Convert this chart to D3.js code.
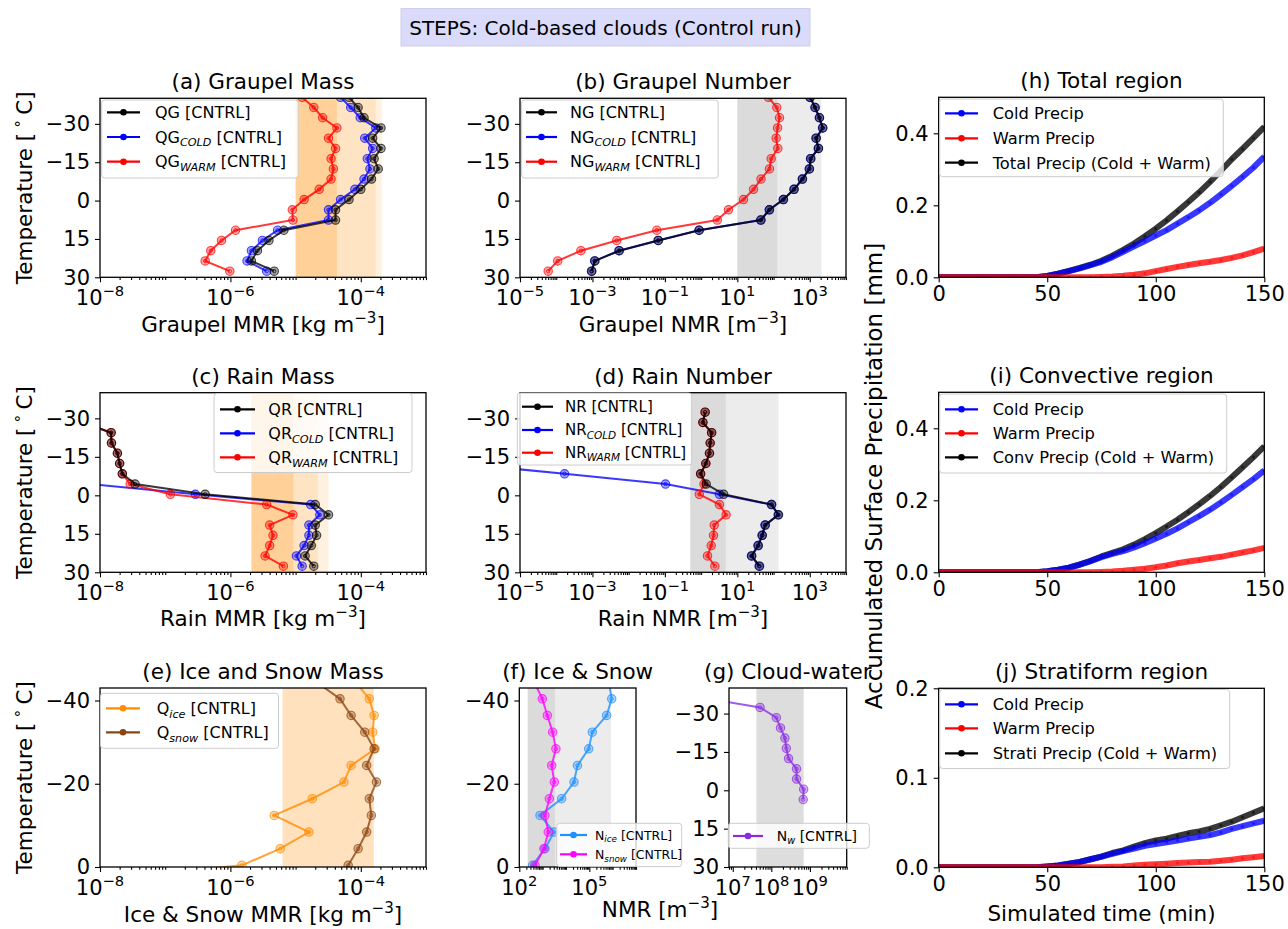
<!DOCTYPE html>
<html><head><meta charset="utf-8">
<script src="https://cdn.jsdelivr.net/npm/d3@7"></script>
<style>body{margin:0;background:#fff} text{font-family:"DejaVu Sans",sans-serif;fill:#000}</style>
</head><body><script>
// ---------------- DATA ----------------
const levelsMain = [27.6, 23.6, 19.6, 15.6, 11.6, 7.6, 3.6, -0.4, -4.4, -8.4, -12.4, -16.4, -20.4, -24.4, -28.4, -32.4, -36.4, -40.4];
const levelsIce = [3.6, -0.4, -4.4, -8.4, -12.4, -16.4, -20.4, -24.4, -28.4, -32.4, -36.4, -40.4, -44.4];
const levelsCloud = [3.6, -0.4, -4.4, -8.4, -12.4, -16.4, -20.4, -24.4, -28.4, -32.4, -36.4];

const qgTotal = [4.7e-6, 2.1e-6, 2.6e-6, 3.9e-6, 6.6e-6, 4.1e-5, 4.1e-5, 6.6e-5, 1.0e-4, 1.46e-4, 1.85e-4, 1.6e-4, 2.04e-4, 1.52e-4, 2.04e-4, 1.12e-4, 9.1e-5, 6.6e-5];
const qgCold = [3.6e-6, 1.8e-6, 2.1e-6, 3.1e-6, 5.3e-6, 3.2e-5, 3.2e-5, 4.9e-5, 8.1e-5, 1.12e-4, 1.38e-4, 1.26e-4, 1.52e-4, 1.15e-4, 1.7e-4, 9.8e-5, 7.0e-5, 4.9e-5];
const qgWarm = [9.8e-7, 4.1e-7, 5.0e-7, 7.3e-7, 1.2e-6, 9.1e-6, 8.9e-6, 1.35e-5, 2.3e-5, 3.5e-5, 3.8e-5, 3.5e-5, 4.1e-5, 3.2e-5, 4.3e-5, 2.6e-5, 1.9e-5, 1.26e-5];

const ngTotal = [0.00096, 0.00117, 0.0055, 0.066, 0.89, 45, 77, 188, 370, 630, 980, 1070, 1740, 1510, 2290, 1860, 1410, 1030];
const ngCold = [0.00094, 0.00115, 0.0054, 0.065, 0.87, 44, 76, 185, 365, 620, 965, 1050, 1710, 1480, 2250, 1830, 1390, 1010];
const ngWarm = [6e-5, 1.1e-4, 4.8e-4, 0.0047, 0.06, 2.8, 5.7, 14.8, 28, 45, 77, 86, 131, 118, 129, 146, 123, 72];

const qrTotal = [1.9e-5, 1.4e-5, 1.74e-5, 2.1e-5, 2.0e-5, 3.2e-5, 2.0e-5, 4.1e-7, 3.45e-8, 2.2e-8, 2.0e-8, 1.85e-8, 1.5e-8, 1.48e-8, 5.6e-9, null, null, null];
const qrCold = [1.26e-5, 1.03e-5, 1.35e-5, 1.6e-5, 1.6e-5, 2.35e-5, 1.7e-5, 2.9e-7, 7e-9, null, null, null, null, null, null, null, null, null];
const qrWarm = [6.5e-6, 3.4e-6, 4.0e-6, 4.5e-6, 4.0e-6, 9.1e-6, 3.6e-6, 1.2e-7, 2.9e-8, 2.2e-8, 2.0e-8, 1.85e-8, 1.5e-8, 1.48e-8, 5.6e-9, null, null, null];

const nrTotal = [41, 25, 38, 49, 59, 137, 89, 4.2, 1.38, 0.97, 1.35, 1.7, 1.78, 1.95, 1.12, 1.29, null, null];
const nrCold = [40, 24.5, 37, 48, 58, 134, 87, 3.2, 0.104, 1.7e-4, 2.3e-7, null, null, null, null, null, null, null];
const nrWarm = [2.4, 1.5, 1.9, 2.2, 2.3, 4.9, 3.2, 0.89, 1.2, 0.97, 1.35, 1.7, 1.78, 1.95, 1.12, 1.29, null, null];

const qIce = [2.3e-9, 1.5e-6, 5.8e-6, 1.6e-5, 4.7e-6, 1.8e-5, 5.5e-5, 7.1e-5, 1.66e-4, 1.52e-4, 1.6e-4, 1.35e-4, 8.3e-5];
const qSnow = [5.5e-5, 6.4e-5, 9.1e-5, 1.23e-4, 1.45e-4, 1.35e-4, 1.74e-4, 1.23e-4, 1.6e-4, 1.15e-4, 7.1e-5, 4.8e-5, 2.1e-5];
const nIce = [206, 372, 1260, 3090, 770, 6500, 2.2e4, 3.1e4, 9.4e4, 1.34e5, 5.5e5, 9.1e5, 6.9e5];
const nSnow = [206, 470, 1140, 1740, 1260, 1940, 3160, 2440, 3700, 2680, 1590, 970, 440];
const nCloud = [6.7e8, 6.9e8, 4.5e8, 4.5e8, 2.8e8, 2.45e8, 2.25e8, 1.73e8, 1.35e8, 5.1e7, 1.4e6];

const timeMin = [0,5,10,15,20,25,30,35,40,45,50,55,60,65,70,75,80,85,90,95,100,105,110,115,120,125,130,135,140,145,150];
const coldAll = [0,0,0,0,0,0,0,0,0,0,0.004,0.010,0.017,0.025,0.034,0.043,0.056,0.071,0.086,0.101,0.116,0.131,0.149,0.167,0.186,0.207,0.230,0.254,0.279,0.305,0.335];
const warmAll = [0,0,0,0,0,0,0,0,0,0,0,0,0,0,0,0.001,0.002,0.004,0.007,0.011,0.017,0.023,0.029,0.034,0.039,0.043,0.048,0.054,0.061,0.070,0.080];
const totalAll = [0,0,0,0,0,0,0,0,0,0,0.004,0.010,0.018,0.026,0.035,0.046,0.060,0.076,0.094,0.114,0.135,0.158,0.183,0.209,0.236,0.265,0.296,0.328,0.357,0.387,0.418];
const coldConv = [0,0,0,0,0,0,0,0,0,0,0.003,0.007,0.013,0.021,0.031,0.042,0.051,0.059,0.069,0.081,0.094,0.107,0.122,0.139,0.156,0.174,0.194,0.215,0.237,0.259,0.283];
const warmConv = [0,0,0,0,0,0,0,0,0,0,0,0,0,0,0,0.001,0.002,0.004,0.007,0.010,0.014,0.019,0.025,0.030,0.034,0.039,0.043,0.049,0.055,0.061,0.068];
const totalConv = [0,0,0,0,0,0,0,0,0,0,0.003,0.007,0.013,0.022,0.032,0.044,0.054,0.064,0.077,0.092,0.109,0.127,0.146,0.167,0.189,0.212,0.237,0.264,0.292,0.320,0.350];
const coldStrat = [0,0,0,0,0,0,0,0,0,0,0.001,0.002,0.004,0.006,0.009,0.012,0.015,0.018,0.021,0.024,0.026,0.028,0.030,0.032,0.034,0.036,0.039,0.043,0.046,0.049,0.052];
const warmStrat = [0,0,0,0,0,0,0,0,0,0,0,0,0,0,0,0,0.0005,0.001,0.002,0.0028,0.0034,0.004,0.0047,0.0053,0.0058,0.0063,0.0072,0.0085,0.0100,0.0113,0.0127];
const totalStrat = [0,0,0,0,0,0,0,0,0,0,0.001,0.002,0.004,0.006,0.009,0.012,0.016,0.019,0.023,0.027,0.030,0.032,0.035,0.038,0.040,0.043,0.047,0.051,0.056,0.061,0.066];

const tempTicks = [-30, -15, 0, 15, 30];
const iceTempTicks = [-40, -20, 0];
const mmrTickExp = [-8, -6, -4];
const nmrTickExp = [-5, -3, -1, 1, 3];
const iceNmrTickExp = [2, 5];
const cloudNmrTickExp = [7, 8, 9];
const timeTicks = [0, 50, 100, 150];
const precipTicks = [0, 0.2, 0.4];
const stratiTicks = [0, 0.1, 0.2];

// ---------------- DRAWING ----------------
const FT = 21;   // tick font
const FL = 21.5; // label/title font
const svg = d3.select("body").append("svg").attr("width",1288).attr("height",929);
let clipN = 0;
const MINUS = "\u2212";

function rich(t, parts, fs) {
  let shift = 0;
  parts.forEach(p => {
    const str = p[0], kind = p[1];
    const ts = t.append("tspan").text(str);
    let target = 0;
    if (kind === "sub") { target = fs*0.22; ts.attr("font-size", fs*0.7).attr("font-style","italic"); }
    else if (kind === "sup") { target = -fs*0.42; ts.attr("font-size", fs*0.7); }
    const dy = target - shift;
    if (Math.abs(dy) > 1e-9) ts.attr("dy", dy);
    shift = target;
  });
  return t;
}

function legend(L) {
  const g = svg.append("g");
  g.append("rect").attr("x",L.x).attr("y",L.y).attr("width",L.w).attr("height",L.h).attr("rx",3)
    .attr("fill","#fff").attr("fill-opacity",0.8).attr("stroke","#cccccc").attr("stroke-width",1);
  L.rows.forEach((r,i) => {
    const yy = L.rowY[i];
    g.append("line").attr("x1",L.sx).attr("x2",L.sx+L.sl).attr("y1",yy).attr("y2",yy)
      .attr("stroke",r.color).attr("stroke-width",2.2);
    g.append("circle").attr("cx",L.sx+L.sl/2).attr("cy",yy).attr("r",3.3).attr("fill",r.color);
    const t = g.append("text").attr("x",L.tx).attr("y",yy+L.fs*0.36).attr("font-size",L.fs);
    rich(t, r.parts, L.fs);
  });
}

function yLabelText(x, yc, parts, fs) {
  const t = svg.append("text").attr("transform",`translate(${x},${yc}) rotate(-90)`).attr("text-anchor","middle").attr("font-size",fs);
  rich(t, parts, fs);
}

function frameAndClip(x0,x1,y0,y1) {
  const id = "clip"+(clipN++);
  svg.append("clipPath").attr("id",id).append("rect").attr("x",x0).attr("y",y0).attr("width",x1-x0).attr("height",y1-y0);
  return svg.append("g").attr("clip-path",`url(#${id})`);
}

function styleAxis(g) {
  g.select(".domain").remove();
  g.selectAll("line").attr("stroke","#000").attr("stroke-width",1.1);
  g.selectAll("text").attr("font-size",FT).attr("font-family","DejaVu Sans").attr("fill","#000");
}

function profilePanel(o) {
  const [x0,x1,y0,y1] = o.box;
  const x = d3.scaleLog().domain(o.xdom).range([x0,x1]);
  const y = d3.scaleLinear().domain(o.ydom).range([y1,y0]);
  const pg = frameAndClip(x0,x1,y0,y1);
  o.spans.forEach(s => pg.append("rect").attr("x",x(s.a)).attr("y",y0).attr("width",x(s.b)-x(s.a)).attr("height",y1-y0)
    .attr("fill",s.color).attr("fill-opacity",s.op));
  const ok = d => d.v != null && d.v > 0;
  o.series.forEach(s => {
    const pts = o.levels.map((t,i) => ({t, v:s.values[i]}));
    const line = d3.line().defined(ok).x(d => x(d.v)).y(d => y(d.t));
    pg.append("path").attr("d", line(pts)).attr("fill","none").attr("stroke",s.color)
      .attr("stroke-width",2).attr("stroke-opacity",0.78);
    const good = pts.filter(ok);
    pg.selectAll(null).data(good).join("circle").attr("cx",d=>x(d.v)).attr("cy",d=>y(d.t)).attr("r",4.2)
      .attr("fill",s.color).attr("fill-opacity",0.35).attr("stroke",s.color).attr("stroke-opacity",0.7).attr("stroke-width",1.1);
    pg.selectAll(null).data(good).join("circle").attr("cx",d=>x(d.v)).attr("cy",d=>y(d.t)).attr("r",1.7)
      .attr("fill","none").attr("stroke",s.color).attr("stroke-opacity",0.8).attr("stroke-width",0.9);
  });
  svg.append("rect").attr("x",x0).attr("y",y0).attr("width",x1-x0).attr("height",y1-y0)
    .attr("fill","none").attr("stroke","#000").attr("stroke-width",1.3);
  // x axis
  const majors = o.xExp.map(e => Math.pow(10,e));
  const minors = [];
  const lo = Math.floor(Math.log10(o.xdom[0])), hi = Math.ceil(Math.log10(o.xdom[1]));
  for (let e = lo; e <= hi; e++) for (let m = 1; m < 10; m++) {
    const v = m*Math.pow(10,e);
    if (v >= o.xdom[0]*0.999 && v <= o.xdom[1]*1.001 && !majors.some(M => Math.abs(M-v)/v < 1e-6)) minors.push(v);
  }
  svg.append("g").attr("transform",`translate(0,${y1})`).call(d3.axisBottom(x).tickValues(majors).tickSize(5).tickFormat(()=>"")).call(styleAxis);
  svg.append("g").attr("transform",`translate(0,${y1})`).call(d3.axisBottom(x).tickValues(minors).tickSize(2.8).tickFormat(()=>"")).call(styleAxis);
  o.xExp.forEach(e => {
    const t = svg.append("text").attr("x",x(Math.pow(10,e))).attr("y",y1+28).attr("text-anchor","middle").attr("font-size",FT);
    rich(t, [["10"],[(e<0?MINUS:"")+Math.abs(e),"sup"]], FT);
  });
  // y axis
  svg.append("g").attr("transform",`translate(${x0},0)`)
    .call(d3.axisLeft(y).tickValues(o.yTicks).tickSize(5).tickPadding(5).tickFormat(d => d<0 ? MINUS+Math.abs(d) : String(d)))
    .call(styleAxis);
  if (o.title) svg.append("text").attr("x",(x0+x1)/2).attr("y",y0-9).attr("text-anchor","middle").attr("font-size",FL).text(o.title);
  if (o.xlabel) rich(svg.append("text").attr("x",o.xlabelX || (x0+x1)/2).attr("y",o.xlabelY).attr("text-anchor","middle").attr("font-size",FL), o.xlabel, FL);
  if (o.ylabel) yLabelText(31.5, (y0+y1)/2, [["Temperature [\u2009"],["\u2218","sup"],["\u2009C]"]], FL);
  if (o.legend) legend(o.legend);
}

function timePanel(o) {
  const [x0,x1,y0,y1] = o.box;
  const x = d3.scaleLinear().domain([0,150]).range([x0,x1]);
  const y = d3.scaleLinear().domain(o.ydom).range([y1,y0]);
  const pg = frameAndClip(x0,x1,y0,y1);
  o.series.forEach(s => {
    const pts = timeMin.map((t,i) => ({t, v:s.values[i]}));
    pg.append("path").attr("d", d3.line().x(d=>x(d.t)).y(d=>y(d.v))(pts)).attr("fill","none")
      .attr("stroke",s.color).attr("stroke-width",6).attr("stroke-opacity",0.78).attr("stroke-linejoin","round");
    pg.selectAll(null).data(pts).join("circle").attr("cx",d=>x(d.t)).attr("cy",d=>y(d.v)).attr("r",1.6)
      .attr("fill",s.color).attr("fill-opacity",0.5);
  });
  svg.append("rect").attr("x",x0).attr("y",y0).attr("width",x1-x0).attr("height",y1-y0)
    .attr("fill","none").attr("stroke","#000").attr("stroke-width",1.3);
  svg.append("g").attr("transform",`translate(0,${y1})`)
    .call(d3.axisBottom(x).tickValues(timeTicks).tickSize(5).tickPadding(4).tickFormat(d3.format("d"))).call(styleAxis);
  svg.append("g").attr("transform",`translate(${x0},0)`)
    .call(d3.axisLeft(y).tickValues(o.yTicks).tickSize(5).tickPadding(5).tickFormat(d3.format(".1f"))).call(styleAxis);
  svg.append("text").attr("x",(x0+x1)/2).attr("y",y0-9).attr("text-anchor","middle").attr("font-size",FL).text(o.title);
  if (o.xlabel) svg.append("text").attr("x",(x0+x1)/2).attr("y",921).attr("text-anchor","middle").attr("font-size",FL).text(o.xlabel);
  legend(o.legend);
}

// Figure title
svg.append("rect").attr("x",401).attr("y",8.5).attr("width",409).attr("height",37.5).attr("fill","#dadafa").attr("stroke","#cfcfe8");
svg.append("text").attr("x",605.5).attr("y",35).attr("text-anchor","middle").attr("font-size",20).text("STEPS: Cold-based clouds (Control run)");

const ORANGE = "#ff8c00", GRAY = "#808080";
const BLK = "#000000", BLU = "#0000ff", RED = "#ff0000";

function rowsQ(prefix) {
  return [
    {color:BLK, parts:[[prefix+" [CNTRL]"]]},
    {color:BLU, parts:[[prefix],["COLD","sub"],[" [CNTRL]"]]},
    {color:RED, parts:[[prefix],["WARM","sub"],[" [CNTRL]"]]}
  ];
}

// (a)
profilePanel({box:[100,426,98.3,277.3], xdom:[1e-8,1e-3], ydom:[30,-40], levels:levelsMain, xExp:mmrTickExp, yTicks:tempTicks,
  spans:[{a:1e-5,b:2.1e-4,color:ORANGE,op:0.12},{a:1e-5,b:1.7e-4,color:ORANGE,op:0.12},{a:1e-5,b:4.3e-5,color:ORANGE,op:0.22}],
  series:[{values:qgCold,color:BLU},{values:qgWarm,color:RED},{values:qgTotal,color:BLK}],
  title:"(a) Graupel Mass", xlabel:[["Graupel MMR [kg m"],[MINUS+"3","sup"],["]"]], xlabelY:332, ylabel:true,
  legend:{x:101.7,y:100,w:196.5,h:78,fs:16,sx:107,sl:33,tx:155,rowY:[112.3,137,161.7],rows:rowsQ("QG")}});
// (b)
profilePanel({box:[520,846,98.3,277.3], xdom:[1e-5,1e4], ydom:[30,-40], levels:levelsMain, xExp:nmrTickExp, yTicks:tempTicks,
  spans:[{a:10,b:2100,color:GRAY,op:0.15},{a:10,b:126,color:GRAY,op:0.15}],
  series:[{values:ngCold,color:BLU},{values:ngWarm,color:RED},{values:ngTotal,color:BLK}],
  title:"(b) Graupel Number", xlabel:[["Graupel NMR [m"],[MINUS+"3","sup"],["]"]], xlabelY:332,
  legend:{x:521.7,y:100,w:196.5,h:78,fs:16,sx:526,sl:31,tx:570,rowY:[112.3,137,161.7],rows:rowsQ("NG")}});
// (c)
profilePanel({box:[100,426,392.7,572.3], xdom:[1e-8,1e-3], ydom:[30,-40], levels:levelsMain, xExp:mmrTickExp, yTicks:tempTicks,
  spans:[{a:2.1e-6,b:3.2e-5,color:ORANGE,op:0.12},{a:2.1e-6,b:2.2e-5,color:ORANGE,op:0.12},{a:2.1e-6,b:9.3e-6,color:ORANGE,op:0.22}],
  series:[{values:qrCold,color:BLU},{values:qrWarm,color:RED},{values:qrTotal,color:BLK}],
  title:"(c) Rain Mass", xlabel:[["Rain MMR [kg m"],[MINUS+"3","sup"],["]"]], xlabelY:626, ylabel:true,
  legend:{x:214,y:393.5,w:198,h:79,fs:16,sx:220,sl:35,tx:268.3,rowY:[409.3,433.3,457.3],rows:rowsQ("QR")}});
// (d)
profilePanel({box:[520,846,392.7,572.3], xdom:[1e-5,1e4], ydom:[30,-40], levels:levelsMain, xExp:nmrTickExp, yTicks:tempTicks,
  spans:[{a:0.5,b:137,color:GRAY,op:0.15},{a:0.5,b:4.8,color:GRAY,op:0.15}],
  series:[{values:nrCold,color:BLU},{values:nrWarm,color:RED},{values:nrTotal,color:BLK}],
  title:"(d) Rain Number", xlabel:[["Rain NMR [m"],[MINUS+"3","sup"],["]"]], xlabelY:626,
  legend:{x:517.3,y:393,w:174.5,h:72,fs:15,sx:522,sl:31,tx:565,rowY:[406.7,430,452.7],rows:rowsQ("NR")}});
// (e)
profilePanel({box:[100,426,688,867], xdom:[1e-8,1e-3], ydom:[0,-43], levels:levelsIce, xExp:mmrTickExp, yTicks:iceTempTicks,
  spans:[{a:6.3e-6,b:1.58e-4,color:ORANGE,op:0.26}],
  series:[{values:qIce,color:"#ff8c00"},{values:qSnow,color:"#8b4513"}],
  title:"(e) Ice and Snow Mass", xlabel:[["Ice & Snow MMR [kg m"],[MINUS+"3","sup"],["]"]], xlabelY:922, ylabel:true,
  legend:{x:100.5,y:693.3,w:178,h:55,fs:16,sx:106,sl:34,tx:156.7,rowY:[708.3,732.3],
    rows:[{color:"#ff8c00",parts:[["Q"],["ice","sub"],[" [CNTRL]"]]},{color:"#8b4513",parts:[["Q"],["snow","sub"],[" [CNTRL]"]]}]}});
// (f)
profilePanel({box:[519.3,636,688,867], xdom:[1e2,1e7], ydom:[0,-43], levels:levelsIce, xExp:iceNmrTickExp, yTicks:iceTempTicks,
  spans:[{a:229,b:8.5e5,color:GRAY,op:0.15},{a:229,b:3400,color:GRAY,op:0.15}],
  series:[{values:nIce,color:"#1e90ff"},{values:nSnow,color:"#ff00ff"}],
  title:"(f) Ice & Snow",
  legend:{x:556.7,y:823.3,w:125,h:43.3,fs:12.5,sx:560,sl:27,tx:595,rowY:[835,854.3],
    rows:[{color:"#1e90ff",parts:[["N"],["ice","sub"],[" [CNTRL]"]]},{color:"#ff00ff",parts:[["N"],["snow","sub"],[" [CNTRL]"]]}]}});
// (g)
profilePanel({box:[729,846.7,688,867], xdom:[8e6,9e9], ydom:[30,-40], levels:levelsCloud, xExp:cloudNmrTickExp, yTicks:tempTicks,
  spans:[{a:4.1e7,b:6.9e8,color:GRAY,op:0.27}],
  series:[{values:nCloud,color:"#8a2be2"}],
  title:"(g) Cloud-water",
  legend:{x:728.3,y:823.3,w:141,h:25,fs:14,sx:733,sl:30,tx:776.7,rowY:[836],
    rows:[{color:"#8a2be2",parts:[["N"],["w","sub"],[" [CNTRL]"]]}]}});
// shared xlabel for f,g
rich(svg.append("text").attr("x",660).attr("y",917).attr("text-anchor","middle").attr("font-size",FL), [["NMR [m"],[MINUS+"3","sup"],["]"]], FL);

// (h)(i)(j)
function rowsP(lbl) {
  return [{color:BLU,parts:[["Cold Precip"]]},{color:RED,parts:[["Warm Precip"]]},{color:BLK,parts:[[lbl]]}];
}
timePanel({box:[938.7,1264.3,97.3,277.3], ydom:[0,0.5], yTicks:precipTicks, title:"(h) Total region",
  series:[{values:totalAll,color:BLK},{values:coldAll,color:BLU},{values:warmAll,color:RED}],
  legend:{x:939.7,y:99,w:283.6,h:77.7,fs:16.3,sx:945,sl:33,tx:992.7,rowY:[113.3,138.3,162.7],rows:rowsP("Total Precip (Cold + Warm)")}});
timePanel({box:[938.7,1264.3,392.3,572.3], ydom:[0,0.5], yTicks:precipTicks, title:"(i) Convective region",
  series:[{values:totalConv,color:BLK},{values:coldConv,color:BLU},{values:warmConv,color:RED}],
  legend:{x:939.7,y:394,w:287,h:79,fs:16.3,sx:945,sl:33,tx:992.7,rowY:[409.3,433.3,457.3],rows:rowsP("Conv Precip (Cold + Warm)")}});
timePanel({box:[938.7,1264.3,688.3,867.3], ydom:[0,0.2], yTicks:stratiTicks, title:"(j) Stratiform region", xlabel:"Simulated time (min)",
  series:[{values:totalStrat,color:BLK},{values:coldStrat,color:BLU},{values:warmStrat,color:RED}],
  legend:{x:939.7,y:689.5,w:290,h:79,fs:16.3,sx:945,sl:33,tx:992.7,rowY:[704.3,728.3,753.3],rows:rowsP("Strati Precip (Cold + Warm)")}});

yLabelText(882, 476, [["Accumulated Surface Precipitation [mm]"]], 23);
</script></body></html>
